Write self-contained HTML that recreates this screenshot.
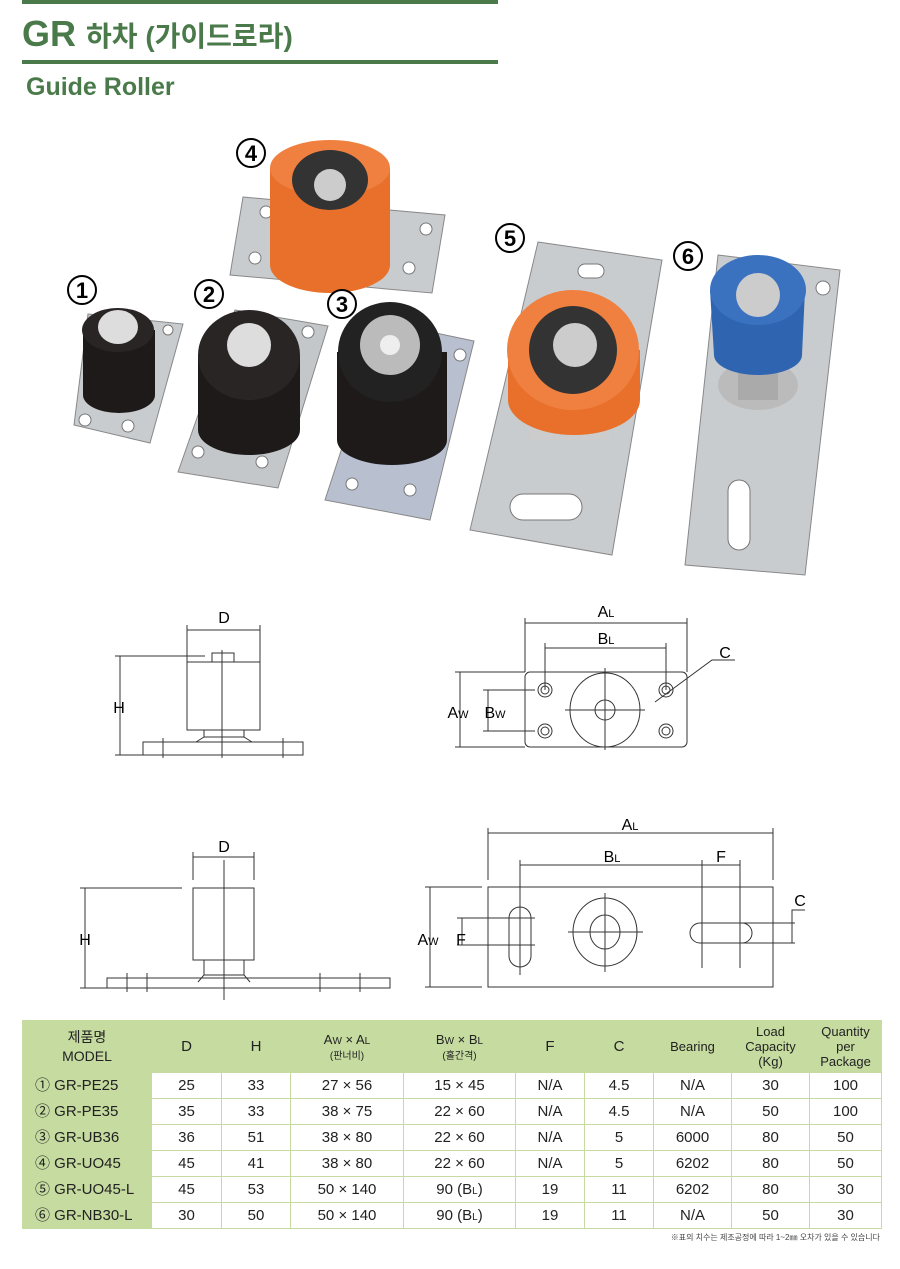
<!DOCTYPE html>
<html><head><meta charset="utf-8"><style>
body{margin:0;background:#fff;width:900px;height:1269px;position:relative;overflow:hidden;font-family:"Liberation Sans","Noto Sans CJK KR",sans-serif}
.t{position:absolute;color:#4a7a4a;font-weight:bold}
table{position:absolute;left:22px;top:1020px;border-collapse:collapse;font-family:"Liberation Sans","Noto Sans CJK KR",sans-serif;font-size:15px;color:#222}
td{text-align:center;padding:0;height:25px;line-height:25px;border:1px solid #c5dba0}
tr.h td{background:#c5dba0;height:51px;font-size:13px;line-height:15px}
td.m{background:#c5dba0;text-align:left;padding-left:12px}
.s{font-size:10px;line-height:1}
</style></head><body>
<div style="position:absolute;left:22px;top:0;width:476px;height:4px;background:#4a7a4a"></div>
<div style="position:absolute;left:22px;top:60px;width:476px;height:4px;background:#4a7a4a"></div>
<div class="t" style="left:22px;top:14px;font-size:36px;line-height:40px">GR <span style="font-size:28px">하차 (가이드로라)</span></div>
<div class="t" style="left:26px;top:72px;font-size:25px;line-height:30px">Guide Roller</div>

<svg width="900" height="1269" style="position:absolute;left:0;top:0" font-family="Liberation Sans,sans-serif">
<g stroke="#888" stroke-width="1">
<polygon points="243,197 445,215 432,293 230,275" fill="#c9cccf"/>
<polygon points="88,314 183,324 150,443 74,425" fill="#c9cccf"/>
<polygon points="235,310 328,326 278,488 178,472" fill="#c4c7ca"/>
<polygon points="383,322 474,341 430,520 325,500" fill="#b8c0d0"/>
<polygon points="538,242 662,260 612,555 470,530" fill="#c9cccf"/>
<polygon points="718,255 840,270 805,575 685,565" fill="#c9cccf"/>
</g>
<g fill="#fff" stroke="#777">
<circle cx="266" cy="212" r="6"/><circle cx="426" cy="229" r="6"/><circle cx="255" cy="258" r="6"/><circle cx="409" cy="268" r="6"/>
<circle cx="168" cy="330" r="5"/><circle cx="85" cy="420" r="6"/><circle cx="128" cy="426" r="6"/>
<circle cx="308" cy="332" r="6"/><circle cx="198" cy="452" r="6"/><circle cx="262" cy="462" r="6"/>
<circle cx="460" cy="355" r="6"/><circle cx="352" cy="484" r="6"/><circle cx="410" cy="490" r="6"/>
<rect x="578" y="264" width="26" height="14" rx="7"/><rect x="510" y="494" width="72" height="26" rx="13"/>
<circle cx="823" cy="288" r="7"/><rect x="728" y="480" width="22" height="70" rx="11"/>
</g>
<path d="M270,168 L270,265 A60,28 0 0 0 390,265 L390,168 Z" fill="#e8702a"/><ellipse cx="330" cy="168" rx="60" ry="28" fill="#f08040"/><ellipse cx="330" cy="180" rx="38" ry="30" fill="#333"/><ellipse cx="330" cy="185" rx="16" ry="16" fill="#ccc"/>
<path d="M83,330 L83,395 A36,18 0 0 0 155,395 L155,330 Z" fill="#1e1a1a"/><ellipse cx="118" cy="330" rx="36" ry="22" fill="#2a2525"/><ellipse cx="118" cy="327" rx="20" ry="17" fill="#ddd"/>
<path d="M198,355 L198,430 A51,25 0 0 0 300,430 L300,355 Z" fill="#1e1a1a"/><ellipse cx="249" cy="355" rx="51" ry="45" fill="#2a2525"/><ellipse cx="249" cy="345" rx="22" ry="22" fill="#ddd"/>
<path d="M337,352 L337,440 A55,25 0 0 0 447,440 L447,352 Z" fill="#1e1a1a"/><ellipse cx="390" cy="352" rx="52" ry="50" fill="#222"/><ellipse cx="390" cy="345" rx="30" ry="30" fill="#bbb"/><circle cx="390" cy="345" r="10" fill="#eee"/>
<rect x="530" y="400" width="80" height="40" fill="#ccc"/>
<path d="M508,350 L508,400 A66,35 0 0 0 640,400 L640,350 Z" fill="#e8702a"/><ellipse cx="573" cy="350" rx="66" ry="60" fill="#f08040"/><ellipse cx="573" cy="350" rx="44" ry="44" fill="#333"/><circle cx="575" cy="345" r="22" fill="#ccc"/>
<ellipse cx="758" cy="385" rx="40" ry="25" fill="#bbb"/><rect x="738" y="355" width="40" height="45" fill="#aaa"/>
<path d="M710,290 L714,355 A44,20 0 0 0 802,355 L805,290 Z" fill="#2f65b0"/><ellipse cx="758" cy="290" rx="48" ry="35" fill="#3a72c0"/><circle cx="758" cy="295" r="22" fill="#ccc"/>
<g fill="#fff" stroke="#000" stroke-width="2">
<circle cx="82" cy="290" r="14"/><circle cx="209" cy="294" r="14"/><circle cx="342" cy="304" r="14"/><circle cx="251" cy="153" r="14"/><circle cx="510" cy="238" r="14"/><circle cx="688" cy="256" r="14"/>
</g>
<g font-size="22" text-anchor="middle" font-weight="bold"><text x="82" y="298">1</text><text x="209" y="302">2</text><text x="342" y="312">3</text><text x="251" y="161">4</text><text x="510" y="246">5</text><text x="688" y="264">6</text></g>

<g stroke="#333" fill="none" stroke-width="1">
<line x1="187" y1="630" x2="260" y2="630"/><line x1="187" y1="625" x2="187" y2="668"/><line x1="260" y1="625" x2="260" y2="668"/>
<rect x="212" y="653" width="22" height="9"/><rect x="187" y="662" width="73" height="68"/>
<path d="M204,730 L204,737 L196,742 M244,730 L244,737 L252,742 M204,737 L244,737"/>
<rect x="143" y="742" width="160" height="13"/><line x1="163" y1="738" x2="163" y2="758"/><line x1="283" y1="738" x2="283" y2="758"/>
<line x1="222" y1="650" x2="222" y2="758"/>
<line x1="120" y1="656" x2="120" y2="755"/><line x1="115" y1="656" x2="205" y2="656"/><line x1="115" y1="755" x2="143" y2="755"/>
</g>
<g font-size="16" text-anchor="middle"><text x="224" y="623">D</text><text x="119" y="713">H</text></g>
<g stroke="#333" fill="none" stroke-width="1">
<rect x="525" y="672" width="162" height="75" rx="5"/>
<line x1="525" y1="623" x2="687" y2="623"/><line x1="525" y1="618" x2="525" y2="672"/><line x1="687" y1="618" x2="687" y2="672"/>
<line x1="545" y1="648" x2="666" y2="648"/><line x1="545" y1="643" x2="545" y2="690"/><line x1="666" y1="643" x2="666" y2="690"/>
<ellipse cx="605" cy="710" rx="35" ry="37"/><ellipse cx="605" cy="710" rx="10" ry="10"/><line x1="565" y1="710" x2="645" y2="710"/><line x1="605" y1="668" x2="605" y2="750"/>
<circle cx="545" cy="690" r="7"/><circle cx="545" cy="690" r="4"/><circle cx="666" cy="690" r="7"/><circle cx="666" cy="690" r="4"/>
<circle cx="545" cy="731" r="7"/><circle cx="545" cy="731" r="4"/><circle cx="666" cy="731" r="7"/><circle cx="666" cy="731" r="4"/>
<line x1="460" y1="672" x2="460" y2="747"/><line x1="455" y1="672" x2="525" y2="672"/><line x1="455" y1="747" x2="525" y2="747"/>
<line x1="488" y1="690" x2="488" y2="731"/><line x1="483" y1="690" x2="535" y2="690"/><line x1="483" y1="731" x2="535" y2="731"/>
<path d="M655,702 L712,660 L735,660"/>
</g>
<g font-size="16" text-anchor="middle"><text x="606" y="617">A<tspan font-size="11">L</tspan></text><text x="606" y="644">B<tspan font-size="11">L</tspan></text><text x="725" y="658">C</text><text x="458" y="718">A<tspan font-size="11">W</tspan></text><text x="495" y="718">B<tspan font-size="11">W</tspan></text></g>
<g stroke="#333" fill="none" stroke-width="1">
<line x1="193" y1="857" x2="254" y2="857"/><line x1="193" y1="852" x2="193" y2="880"/><line x1="254" y1="852" x2="254" y2="880"/>
<rect x="193" y="888" width="61" height="72"/><path d="M204,960 L204,975 L198,982 M244,960 L244,975 L250,982 M204,975 L244,975"/>
<rect x="107" y="978" width="283" height="10"/><line x1="127" y1="973" x2="127" y2="992"/><line x1="147" y1="973" x2="147" y2="992"/><line x1="320" y1="973" x2="320" y2="992"/><line x1="360" y1="973" x2="360" y2="992"/>
<line x1="224" y1="860" x2="224" y2="1000"/>
<line x1="85" y1="888" x2="85" y2="988"/><line x1="80" y1="888" x2="182" y2="888"/><line x1="80" y1="988" x2="107" y2="988"/>
</g>
<g font-size="16" text-anchor="middle"><text x="224" y="852">D</text><text x="85" y="945">H</text></g>
<g stroke="#333" fill="none" stroke-width="1">
<rect x="488" y="887" width="285" height="100"/>
<line x1="488" y1="833" x2="773" y2="833"/><line x1="488" y1="828" x2="488" y2="880"/><line x1="773" y1="828" x2="773" y2="880"/>
<line x1="520" y1="865" x2="740" y2="865"/><line x1="520" y1="860" x2="520" y2="905"/><line x1="702" y1="860" x2="702" y2="968"/><line x1="740" y1="860" x2="740" y2="968"/>
<rect x="509" y="907" width="22" height="60" rx="11"/><line x1="520" y1="900" x2="520" y2="975"/>
<ellipse cx="605" cy="932" rx="32" ry="34"/><ellipse cx="605" cy="932" rx="15" ry="17"/><line x1="568" y1="932" x2="643" y2="932"/><line x1="605" y1="893" x2="605" y2="972"/>
<rect x="690" y="923" width="62" height="20" rx="10"/>
<line x1="740" y1="923" x2="795" y2="923"/><line x1="740" y1="943" x2="795" y2="943"/><line x1="792" y1="923" x2="792" y2="943"/><path d="M792,923 L792,910 L805,910"/>
<line x1="462" y1="918" x2="462" y2="945"/><line x1="457" y1="918" x2="535" y2="918"/><line x1="457" y1="945" x2="535" y2="945"/>
<line x1="430" y1="887" x2="430" y2="987"/><line x1="425" y1="887" x2="482" y2="887"/><line x1="425" y1="987" x2="482" y2="987"/>
</g>
<g font-size="16" text-anchor="middle"><text x="630" y="830">A<tspan font-size="11">L</tspan></text><text x="612" y="862">B<tspan font-size="11">L</tspan></text><text x="721" y="862">F</text><text x="800" y="906">C</text><text x="428" y="945">A<tspan font-size="11">W</tspan></text><text x="461" y="945">F</text></g>
</svg>

<table>
<colgroup><col style="width:129px"><col style="width:70px"><col style="width:69px"><col style="width:113px"><col style="width:112px"><col style="width:69px"><col style="width:69px"><col style="width:78px"><col style="width:78px"><col style="width:72px"></colgroup>
<tr class="h"><td style="font-size:14px;line-height:19px">제품명<br>MODEL</td><td style="font-size:15px">D</td><td style="font-size:15px">H</td><td>A<span class="s">W</span> × A<span class="s">L</span><br><span class="s">(판너비)</span></td><td>B<span class="s">W</span> × B<span class="s">L</span><br><span class="s">(홀간격)</span></td><td style="font-size:15px">F</td><td style="font-size:15px">C</td><td>Bearing</td><td>Load<br>Capacity<br>(Kg)</td><td>Quantity<br>per<br>Package</td></tr>
<tr><td class="m">① GR-PE25</td><td>25</td><td>33</td><td>27 × 56</td><td>15 × 45</td><td>N/A</td><td>4.5</td><td>N/A</td><td>30</td><td>100</td></tr>
<tr><td class="m">② GR-PE35</td><td>35</td><td>33</td><td>38 × 75</td><td>22 × 60</td><td>N/A</td><td>4.5</td><td>N/A</td><td>50</td><td>100</td></tr>
<tr><td class="m">③ GR-UB36</td><td>36</td><td>51</td><td>38 × 80</td><td>22 × 60</td><td>N/A</td><td>5</td><td>6000</td><td>80</td><td>50</td></tr>
<tr><td class="m">④ GR-UO45</td><td>45</td><td>41</td><td>38 × 80</td><td>22 × 60</td><td>N/A</td><td>5</td><td>6202</td><td>80</td><td>50</td></tr>
<tr><td class="m">⑤ GR-UO45-L</td><td>45</td><td>53</td><td>50 × 140</td><td>90 (B<span class="s">L</span>)</td><td>19</td><td>11</td><td>6202</td><td>80</td><td>30</td></tr>
<tr><td class="m">⑥ GR-NB30-L</td><td>30</td><td>50</td><td>50 × 140</td><td>90 (B<span class="s">L</span>)</td><td>19</td><td>11</td><td>N/A</td><td>50</td><td>30</td></tr>
</table>
<div style="position:absolute;right:20px;top:1232px;font-size:8px;color:#444">※표의 치수는 제조공정에 따라 1~2㎜ 오차가 있을 수 있습니다</div>
</body></html>
